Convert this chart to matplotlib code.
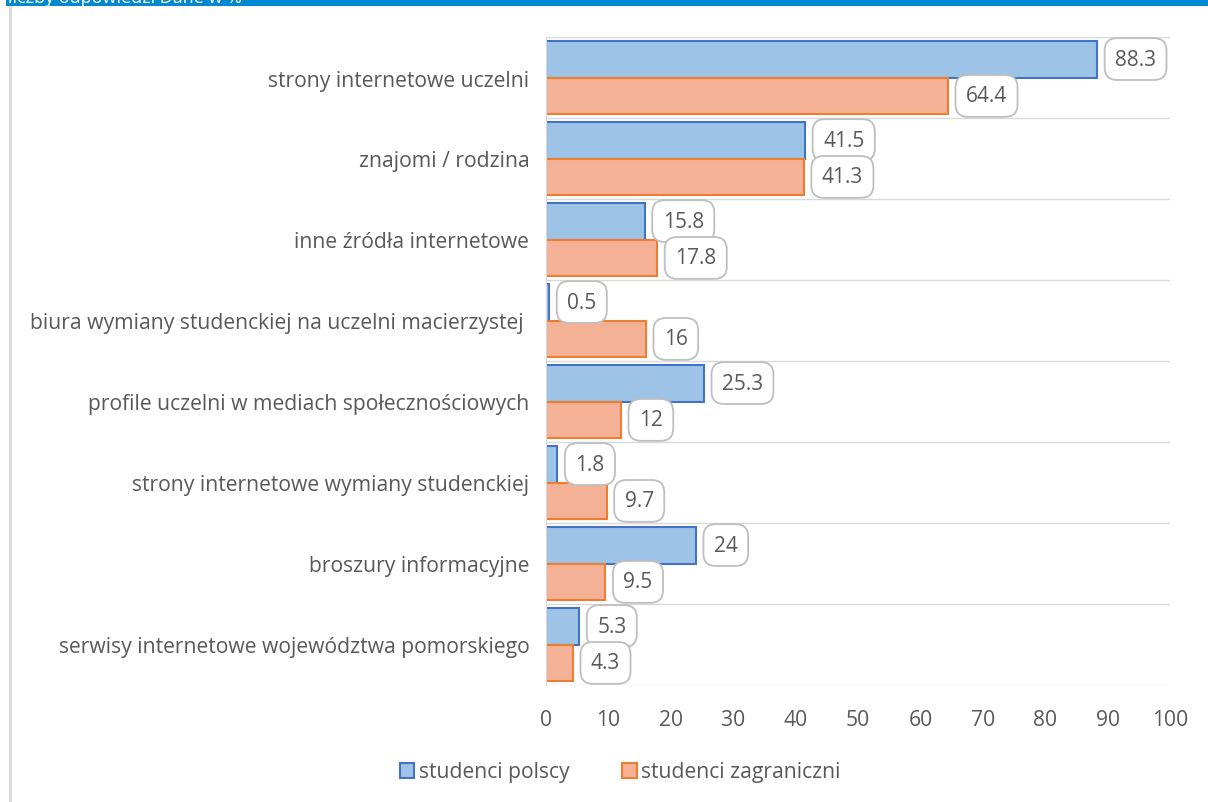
import matplotlib.pyplot as plt
from matplotlib.patches import Rectangle
import numpy as np

plt.rcParams['font.family'] = ['Open Sans', 'DejaVu Sans']

categories = [
    "strony internetowe uczelni",
    "znajomi / rodzina",
    "inne źródła internetowe",
    "biura wymiany studenckiej na uczelni macierzystej ",
    "profile uczelni w mediach społecznościowych",
    "strony internetowe wymiany studenckiej",
    "broszury informacyjne",
    "serwisy internetowe województwa pomorskiego",
]
polscy = [88.3, 41.5, 15.8, 0.5, 25.3, 1.8, 24, 5.3]
zagraniczni = [64.4, 41.3, 17.8, 16, 12, 9.7, 9.5, 4.3]
series_names = ["studenci polscy", "studenci zagraniczni"]
x_ticks = [0, 10, 20, 30, 40, 50, 60, 70, 80, 90, 100]

TXT = '#595959'
FS = 15.2
fig = plt.figure(figsize=(12.08, 8.03), dpi=100)

# header band cut off at the top
fig.patches.append(Rectangle((6 / 1208, 1 - 7 / 803), 1, 7 / 803, transform=fig.transFigure,
                             facecolor='#0288d1', edgecolor='none'))
fig.text(8 / 1208, 1.003, "liczby odpowiedzi Dane w %", color='white', fontsize=13, va='center')
fig.add_artist(plt.Line2D([10 / 1208, 10 / 1208], [0, 1 - 8 / 803], transform=fig.transFigure,
                          color='#d9d9d9', lw=2))

ax = fig.add_axes([546 / 1208, 1 - 686 / 803, 624 / 1208, 648 / 803])

n = len(categories)
y = np.arange(n)
h = 0.455
ax.barh(y - h / 2, polscy, height=h, color='#9dc3e6', edgecolor='#4472c4', lw=1.5, label=series_names[0])
ax.barh(y + h / 2, zagraniczni, height=h, color='#f5b195', edgecolor='#ed7d31', lw=1.5, label=series_names[1])

def fmt(v):
    return f"{v:g}"

box = dict(boxstyle='round,pad=0.5,rounding_size=0.6', fc='white', ec='#bfbfbf', lw=1.3)
for i in range(n):
    ax.annotate(fmt(polscy[i]), (polscy[i], y[i] - h / 2), xytext=(13, 0), textcoords='offset points',
                va='center', ha='left', fontsize=15, color=TXT, bbox=box)
    ax.annotate(fmt(zagraniczni[i]), (zagraniczni[i], y[i] + h / 2), xytext=(13, 0), textcoords='offset points',
                va='center', ha='left', fontsize=15, color=TXT, bbox=box)

ax.set_ylim(n - 0.5, -0.5)
ax.set_xlim(0, 100)
ax.set_xticks(x_ticks)
ax.set_yticks(y)
ax.set_yticklabels(categories)
ax.set_yticks(np.arange(n + 1) - 0.5, minor=True)
ax.grid(True, which='minor', axis='y', color='#d9d9d9', lw=1)
ax.tick_params(axis='y', which='both', length=0, labelsize=FS, labelcolor=TXT, pad=12)
ax.tick_params(axis='x', length=0, labelsize=FS, labelcolor=TXT, pad=17)
for s in ['top', 'right', 'bottom']:
    ax.spines[s].set_visible(False)
ax.spines['left'].set_color('#d9d9d9')
ax.set_axisbelow(True)

ax.legend(loc='center', bbox_to_anchor=(620 / 1208, 1 - 773 / 803), bbox_transform=fig.transFigure,
          ncol=2, frameon=False, fontsize=FS, labelcolor=TXT, handlelength=0.7, handleheight=0.7,
          handletextpad=0.2, columnspacing=2.5)

fig.savefig('out.png', dpi=100)
